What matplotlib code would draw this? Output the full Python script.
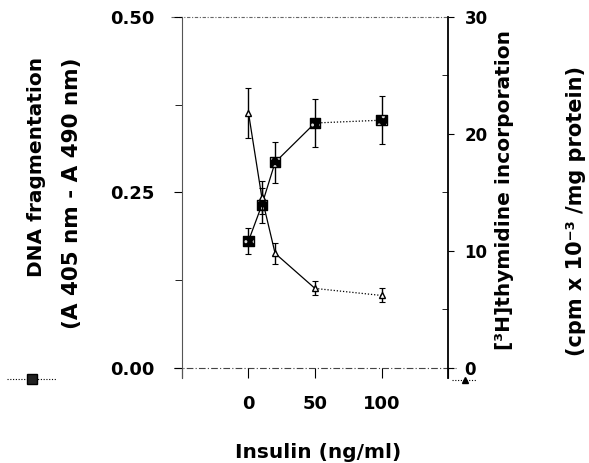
import matplotlib
matplotlib.use("Agg")
import matplotlib.pyplot as plt
from matplotlib.lines import Line2D

# ---- data ----
insulin = [0, 10, 20, 50, 100]
dna_frag = [0.181, 0.232, 0.293, 0.349, 0.353]
dna_err = [0.018, 0.025, 0.029, 0.034, 0.034]
thymidine = [21.8, 14.6, 9.8, 6.8, 6.2]
thy_err = [2.1, 1.4, 0.9, 0.6, 0.6]

x_ticks = [-50, 0, 50, 100, 150]
x_ticklabels = ["", "0", "50", "100", ""]
left_ticks = [0.0, 0.25, 0.5]
left_ticklabels = ["0.00", "0.25", "0.50"]
left_minor = [0.125, 0.375]
right_ticks = [0, 10, 20, 30]
right_ticklabels = ["0", "10", "20", "30"]
right_minor = [5, 15, 25]

plt.rcParams['font.family'] = ['DejaVu Sans']
plt.rcParams['font.weight'] = 'bold'

W, H = 589, 463
fig = plt.figure(figsize=(W / 100, H / 100), dpi=100)
ax = fig.add_axes([182 / W, 1 - 378 / H, (448 - 182) / W, (378 - 17) / H])
ax2 = ax.twinx()

ax.set_xlim(-50, 150)
ax.set_ylim(-0.01425, 0.5)
ax2.set_ylim(-0.855, 30)

# spines
for a in (ax, ax2):
    a.spines['top'].set_visible(False)
    a.spines['bottom'].set_visible(False)
ax.spines['right'].set_visible(False)
ax.spines['left'].set_color('#555555')
ax.spines['left'].set_linewidth(0.8)
ax2.spines['left'].set_visible(False)
ax2.spines['right'].set_color('black')
ax2.spines['right'].set_linewidth(1.3)

# dash-dot baseline and top frame line
ax.plot([-0.03, 1.03], [0, 0], transform=ax.get_yaxis_transform(), color='#444444',
        lw=0.8, ls=(0, (6, 2, 1, 2)), clip_on=False, zorder=1)
ax.plot([-0.04, 1.0], [0.5, 0.5], transform=ax.get_yaxis_transform(), color='#666666',
        lw=0.8, ls=(0, (3, 1.5, 1, 1.5)), clip_on=False, zorder=1)

# ticks
ax.set_xticks(x_ticks)
ax.set_xticklabels(x_ticklabels)
ax.tick_params(axis='x', direction='in', length=7.5, width=0.8, pad=12, labelsize=13)
ax.set_yticks(left_ticks)
ax.set_yticklabels(left_ticklabels)
ax.set_yticks(left_minor, minor=True)
ax.tick_params(axis='y', which='major', direction='out', length=6, width=0.8, pad=14, labelsize=13)
ax.tick_params(axis='y', which='minor', direction='out', length=5, width=0.6)
ax2.set_yticks(right_ticks)
ax2.set_yticklabels(right_ticklabels)
ax2.set_yticks(right_minor, minor=True)
ax2.tick_params(axis='y', which='major', direction='out', length=4, width=0.8, pad=8, labelsize=12)
ax2.tick_params(axis='y', which='minor', direction='in', length=4, width=0.6)

# DNA fragmentation (squares, left axis)
ax.errorbar(insulin, dna_frag, yerr=dna_err, fmt='none', ecolor='black', elinewidth=1.0,
            capsize=2.5, capthick=0.8, zorder=3)
ax.plot(insulin[:4], dna_frag[:4], color='black', lw=0.9, zorder=3)
ax.plot(insulin[3:], dna_frag[3:], color='black', lw=0.9, ls=(0, (1, 1.5)), zorder=3)
ax.scatter(insulin, dna_frag, marker='s', s=55, facecolor='black', edgecolor='#dddddd',
           hatch='..', linewidth=0, zorder=5)
ax.scatter(insulin, dna_frag, marker='s', s=55, facecolor='none', edgecolor='black',
           linewidth=1.0, zorder=6)

# thymidine (triangles, right axis)
ax2.errorbar(insulin, thymidine, yerr=thy_err, fmt='none', ecolor='black', elinewidth=1.0,
             capsize=2.5, capthick=0.8, zorder=3)
ax2.plot(insulin[:4], thymidine[:4], color='black', lw=0.9, zorder=3)
ax2.plot(insulin[3:], thymidine[3:], color='black', lw=0.9, ls=(0, (1, 1.5)), zorder=3)
ax2.plot(insulin, thymidine, ls='none', marker='^', ms=5, mfc='white', mec='black',
         mew=1.0, zorder=5)

# axis labels
fig.text(37 / W, 1 - 167 / H, "DNA fragmentation", rotation=90, ha='center', va='center',
         fontsize=14.5, fontweight='bold')
fig.text(72 / W, 1 - 193 / H, "(A 405 nm - A 490 nm)", rotation=90, ha='center', va='center',
         fontsize=15.5, fontweight='bold')
fig.text(505 / W, 1 - 190 / H, "[³H]thymidine incorporation", rotation=90, ha='center',
         va='center', fontsize=14.5, fontweight='bold')
fig.text(576 / W, 1 - 211 / H, "(cpm x 10⁻³ /mg protein)", rotation=90, ha='center',
         va='center', fontsize=15, fontweight='bold')
fig.text(318 / W, 1 - 453 / H, "Insulin (ng/ml)", ha='center', va='center', fontsize=14.5,
         fontweight='bold')

# legend keys
fig.add_artist(Line2D([7 / W, 57 / W], [1 - 379 / H, 1 - 379 / H], color='black', lw=0.8,
                      ls=(0, (1, 1.5))))
fig.add_artist(Line2D([32 / W], [1 - 379 / H], marker='s', ms=7.5, mfc='#222222', mec='black',
                      ls='none'))
fig.add_artist(Line2D([452 / W, 476 / W], [1 - 380 / H, 1 - 380 / H], color='black', lw=0.8,
                      ls=(0, (1, 1.5))))
fig.add_artist(Line2D([465 / W], [1 - 380 / H], marker='^', ms=5, mfc='black', mec='black',
                      ls='none'))

fig.savefig("out.png", dpi=100)
